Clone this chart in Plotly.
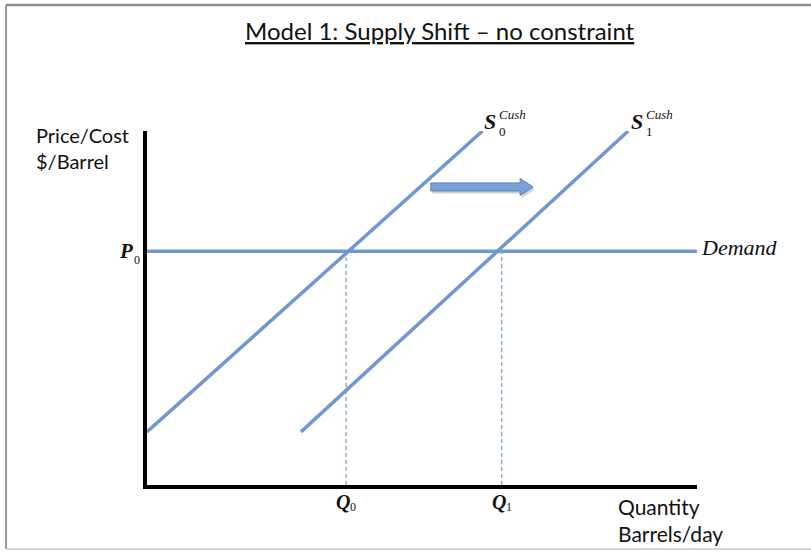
import plotly.graph_objects as go

# ---- data (model units: quantity 0-10, price 0-10) ----
s0_q = [0.0, 6.1]
s0_p = [1.5, 10.0]
s1_q = [2.8, 8.75]
s1_p = [1.5, 10.0]
demand_q = [0.0, 10.0]
demand_p = [6.6, 6.6]
q_eq = [3.62, 6.45]          # Q0, Q1
p_eq = 6.6                   # P0
arrow_q = [5.16, 7.02]       # shift arrow start / tip
arrow_p = 8.42

W, H = 811, 553
LINE = "#6f97d2"
AX_X0, AX_X1 = 147, 697      # pixel extent of x axis
AX_Y0, AX_Y1 = 485, 131      # pixel extent of y axis (bottom, top)

fig = go.Figure()

# vertical dashed guides
for q in q_eq:
    fig.add_trace(go.Scatter(x=[q, q], y=[0, p_eq], mode="lines",
                             line=dict(color=LINE, width=1.2, dash="4px,3px"),
                             hoverinfo="skip", showlegend=False))

fig.add_trace(go.Scatter(x=demand_q, y=demand_p, mode="lines",
                         line=dict(color=LINE, width=3.5), showlegend=False))
fig.add_trace(go.Scatter(x=s0_q, y=s0_p, mode="lines",
                         line=dict(color=LINE, width=3.5), showlegend=False))
fig.add_trace(go.Scatter(x=s1_q, y=s1_p, mode="lines",
                         line=dict(color=LINE, width=3.5), showlegend=False))

# pixel scale helpers for the arrow polygon
qpx = (AX_X1 - AX_X0) / 10.0
ppx = (AX_Y0 - AX_Y1) / 10.0
body = 4.0 / ppx
head = 8.5 / ppx
head_len = 13.0 / qpx
a0, a1 = arrow_q
hb = a1 - head_len

def arrow_path(dx, dy):
    pts = [(a0, arrow_p - body), (hb, arrow_p - body), (hb, arrow_p - head), (a1, arrow_p),
           (hb, arrow_p + head), (hb, arrow_p + body), (a0, arrow_p + body)]
    return "M " + " L ".join(f"{x + dx},{y + dy}" for x, y in pts) + " Z"

fx0, fy_top, fy_bot = 6 / W, 1 - 5 / H, 1 - 549 / H
frame = dict(color="#9a9a9a", width=2)
shapes = [
    dict(type="path", xref="x", yref="y", path=arrow_path(0.03, -0.07),
         fillcolor="rgba(120,120,120,0.35)", line=dict(width=0)),
    dict(type="path", xref="x", yref="y", path=arrow_path(0, 0),
         fillcolor="#7aa0d8", line=dict(color="#5a80bd", width=1)),
    # outer frame (top, left, bottom; right edge is cut off)
    dict(type="line", xref="paper", yref="paper", x0=fx0, x1=1, y0=fy_top, y1=fy_top,
         line=dict(color="#8c8c8c", width=2.5)),
    dict(type="line", xref="paper", yref="paper", x0=fx0, x1=fx0, y0=fy_bot, y1=fy_top,
         line=frame),
    dict(type="line", xref="paper", yref="paper", x0=fx0, x1=1, y0=fy_bot, y1=fy_bot,
         line=dict(color="#c8c8c8", width=1.5)),
]

def px(x, y):
    return x / W, 1 - y / H

SANS = "Lato"
SERIF = "Liberation Serif"
anns = []

def add_text(text, x, y, size, family, xanchor="center", yanchor="middle", color="#111", **kw):
    xx, yy = px(x, y)
    anns.append(dict(text=text, x=xx, y=yy, xref="paper", yref="paper", showarrow=False,
                     xanchor=xanchor, yanchor=yanchor, align="left",
                     font=dict(size=size, family=family, color=color, **kw)))

# title
add_text("Model 1: Supply Shift – no constraint", 440, 31, 24, SANS, lineposition="under")
# axis titles
add_text("Price/Cost<br>$/Barrel", 34, 148, 20, SANS, xanchor="left")
add_text("Quantity<br>Barrels/day", 616, 520, 21, SANS, xanchor="left")
# curve labels
add_text("<i>Demand</i>", 699, 247, 22, SERIF, xanchor="left")
add_text("<i><b>P</b></i>", 126, 251, 21, SERIF)
add_text("0", 137, 260, 12, SERIF)
for q, sub in zip(q_eq, ["0", "1"]):
    x = AX_X0 + q * qpx
    add_text("<i><b>Q</b></i>", x - 3, 502, 20, SERIF)
    add_text(sub, x + 7, 507, 12, SERIF)
for xs, sub in [(490, "0"), (637, "1")]:
    add_text("<i><b>S</b></i>", xs, 122, 22, SERIF)
    add_text("<i>Cush</i>", xs + 7, 115, 13, SERIF, xanchor="left")
    add_text(sub, xs + 7, 131, 13, SERIF, xanchor="left")

fig.update_layout(
    width=W, height=H, autosize=False,
    margin=dict(l=0, r=0, t=0, b=0),
    paper_bgcolor="white", plot_bgcolor="white",
    shapes=shapes, annotations=anns,
    xaxis=dict(domain=[AX_X0 / W, AX_X1 / W], range=[0, 10], showgrid=False,
               zeroline=False, showticklabels=False, ticks="",
               showline=True, linecolor="black", linewidth=4),
    yaxis=dict(domain=[1 - AX_Y0 / H, 1 - AX_Y1 / H], range=[0, 10], showgrid=False,
               zeroline=False, showticklabels=False, ticks="",
               showline=True, linecolor="black", linewidth=4),
)

fig.write_html("out.html", config={"displayModeBar": False},
               post_script="document.body.style.margin='0px';document.body.style.overflow='hidden';")
